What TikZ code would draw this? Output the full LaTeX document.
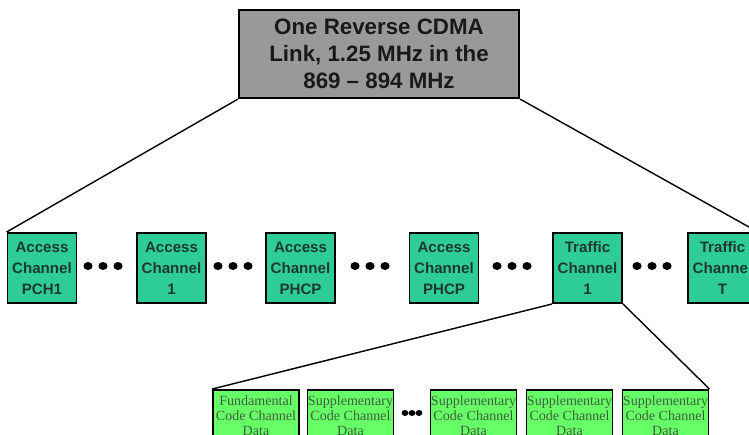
\documentclass[tikz,border=0pt]{standalone}
\usepackage{fontspec}
\setmainfont{Liberation Sans}
\newfontfamily\timesfont{Liberation Serif}
\usetikzlibrary{positioning}
\definecolor{linkgray}{HTML}{999999}
\definecolor{chanteal}{HTML}{2ECC99}
\definecolor{codegreen}{HTML}{66FF66}
\definecolor{chantext}{HTML}{1E3A2C}
\definecolor{codetext}{HTML}{3F5F3F}

\tikzset{
  linkbox/.style={draw=black, line width=1.3pt, fill=linkgray, inner sep=0pt,
    minimum width=5.6cm, minimum height=1.76cm, align=center,
    font=\bfseries\fontsize{12.7}{15.3}\selectfont, text=black!90},
  chanbox/.style={draw=black, line width=1.1pt, fill=chanteal, inner sep=0pt,
    minimum width=1.38cm, minimum height=1.4cm, align=center,
    font=\bfseries\fontsize{8.6}{11.9}\selectfont, text=chantext},
  codebox/.style={draw=black, line width=1.1pt, fill=codegreen, inner sep=0pt,
    minimum width=1.72cm, minimum height=1.04cm, align=center,
    font=\timesfont\fontsize{8}{8.6}\selectfont, text=codetext},
  wire/.style={draw=black, line width=0.8pt}
}

\begin{document}
\begin{tikzpicture}[x=0.02cm, y=-0.02cm]
    \useasboundingbox (0,0) rectangle (749,435);
    \clip (0,0) rectangle (749,435);
    % Enlace reverso
    \node[linkbox] (link) at (379,54) {One Reverse CDMA\\Link, 1.25 MHz in the\\869 -- 894 MHz};
    % Canais
    \node[chanbox] (ac1) at (42,268) {Access\\Channel\\PCH1};
    \node[chanbox] (ac2) at (171.5,268) {Access\\Channel\\1};
    \node[chanbox] (ac3) at (300.5,268) {Access\\Channel\\PHCP};
    \node[chanbox] (ac4) at (444,268) {Access\\Channel\\PHCP};
    \node[chanbox] (tc1) at (587.5,268) {Traffic\\Channel\\1};
    \node[chanbox] (tcT) at (722.5,268) {Traffic\\Channel\\T};
    % Reticências
    \foreach \cx in {103,233,370,512,652}
      \foreach \dx in {-15,0,15}
        \fill[black] (\cx+\dx,266) ellipse (4.6 and 4);
    % Canais de código
    \node[codebox] (fcc) at (256,416) {Fundamental\\Code Channel\\Data};
    \node[codebox] (scc1) at (350.5,416) {Supplementary\\Code Channel\\Data};
    \node[codebox] (scc2) at (473.5,416) {Supplementary\\Code Channel\\Data};
    \node[codebox] (scc3) at (569.5,416) {Supplementary\\Code Channel\\Data};
    \node[codebox] (scc4) at (665.5,416) {Supplementary\\Code Channel\\Data};
    \foreach \dx in {-7,0,7}
      \fill[black] (412+\dx,413) ellipse (3.4 and 3);
    % Ligações
    \draw[wire] (link.south west) -- (ac1.north west);
    \draw[wire] (link.south east) -- (tcT.north east);
    \draw[wire] (tc1.south west) -- (fcc.north west);
    \draw[wire] (tc1.south east) -- (scc4.north east);
\end{tikzpicture}
\end{document}
